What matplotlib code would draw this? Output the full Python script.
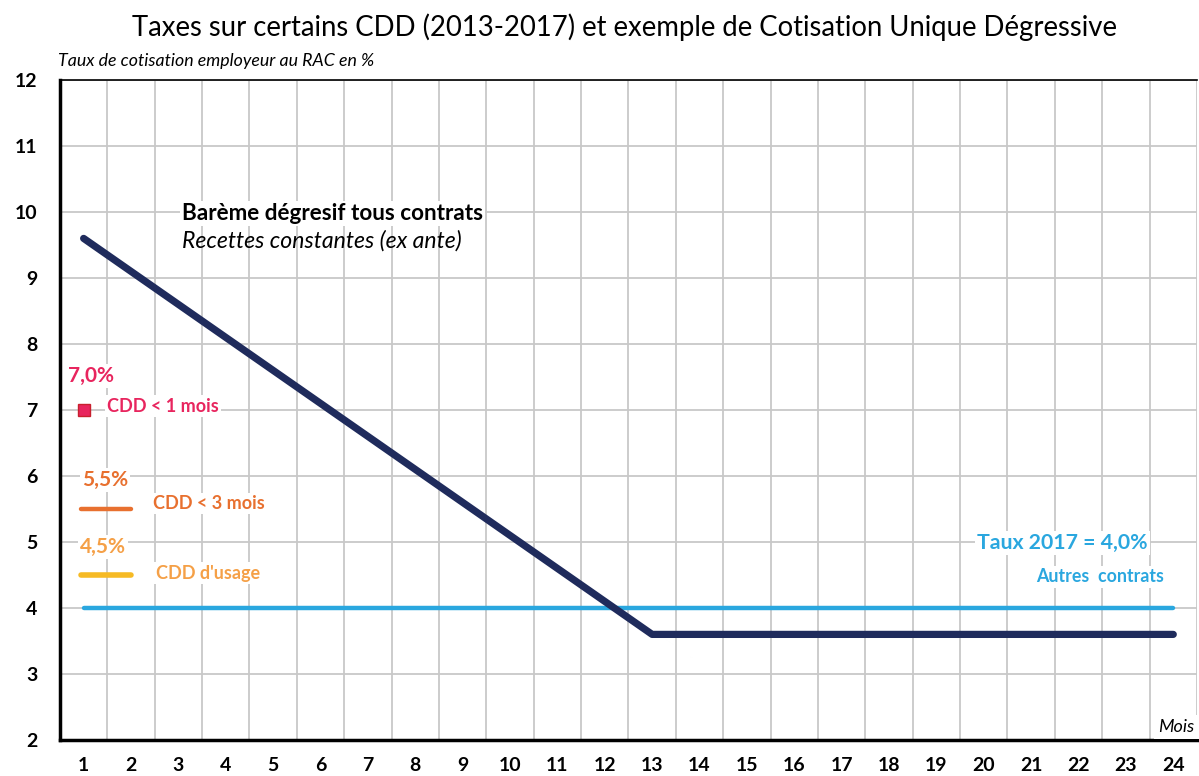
import matplotlib.pyplot as plt

# donnees
mois = list(range(1, 25))
bareme = [9.6, 9.1, 8.6, 8.1, 7.6, 7.1, 6.6, 6.1, 5.6, 5.1, 4.6, 4.1,
          3.6, 3.6, 3.6, 3.6, 3.6, 3.6, 3.6, 3.6, 3.6, 3.6, 3.6, 3.6]
taux_2017 = [4.0] * 24
cdd_1_mois = 7.0
cdd_3_mois = 5.5
cdd_usage = 4.5
seg_x = [0.95, 2.0]

NAVY = "#1F2B5C"
BLEU = "#2AA7DF"
ROSE = "#E8255E"
ORANGE = "#E8702F"
JAUNE = "#F6BA24"
ORANGE_CLAIR = "#F5A047"

plt.rcParams["font.family"] = ["Lato", "DejaVu Sans"]

fig = plt.figure(figsize=(11.99, 7.76), dpi=100)
ax = fig.add_axes([0.05, 0.0464, 0.9483, 0.8505])

ax.set_xlim(0.5, 24.5)
ax.set_ylim(2, 12)
ax.set_xticks(mois)
ax.set_yticks(range(2, 13))
ax.set_xticks([m + 0.5 for m in mois], minor=True)
ax.grid(False)
ax.grid(True, which="minor", axis="x", color="#C8C8C8", lw=1.3)
ax.grid(True, which="major", axis="y", color="#C8C8C8", lw=1.3)
ax.set_axisbelow(True)

for side in ["left", "bottom"]:
    ax.spines[side].set_linewidth(2.5)
    ax.spines[side].set_color("black")
ax.spines["top"].set_linewidth(1.2)
ax.spines["right"].set_visible(False)
ax.tick_params(which="both", length=0)
ax.tick_params(axis="x", pad=12)
ax.tick_params(axis="y", pad=16)
for lab in ax.get_xticklabels() + ax.get_yticklabels():
    lab.set_fontweight("bold")
    lab.set_fontsize(14)

ax.plot(mois, taux_2017, color=BLEU, lw=3.2, solid_capstyle="round", zorder=3)
ax.plot(mois, bareme, color=NAVY, lw=5.2, solid_capstyle="round", zorder=4)
ax.plot(seg_x, [cdd_3_mois] * 2, color=ORANGE, lw=3.2, solid_capstyle="round", zorder=4)
ax.plot(seg_x, [cdd_usage] * 2, color=JAUNE, lw=4, solid_capstyle="round", zorder=4)
ax.plot([1], [cdd_1_mois], marker="s", ms=8, color=ROSE, mec="#C8202E", mew=1, zorder=5)

blanc = dict(facecolor="white", edgecolor="none", pad=1.5)
ax.text(3.08, 9.98, "Barème dégresif tous contrats", fontsize=16.2, fontweight="bold",
        va="center", ha="left", bbox=blanc, zorder=6)
ax.text(3.08, 9.56, "Recettes constantes (ex ante)", fontsize=16.6, style="italic",
        va="center", ha="left", zorder=6)

ax.text(0.66, 7.52, "7,0%", color=ROSE, fontsize=15, fontweight="bold", va="center",
        ha="left", bbox=blanc, zorder=6)
ax.text(1.5, 7.06, "CDD < 1 mois", color=ROSE, fontsize=13, fontweight="bold",
        va="center", ha="left", bbox=blanc, zorder=6)
ax.text(0.96, 5.94, "5,5%", color=ORANGE, fontsize=15, fontweight="bold", va="center",
        ha="left", bbox=blanc, zorder=6)
ax.text(2.47, 5.58, "CDD < 3 mois", color=ORANGE, fontsize=13, fontweight="bold",
        va="center", ha="left", bbox=blanc, zorder=6)
ax.text(0.93, 4.92, "4,5%", color=ORANGE_CLAIR, fontsize=15, fontweight="bold",
        va="center", ha="left", bbox=blanc, zorder=6)
ax.text(2.52, 4.53, "CDD d'usage", color=ORANGE_CLAIR, fontsize=13, fontweight="bold",
        va="center", ha="left", bbox=blanc, zorder=6)

ax.text(19.86, 4.98, "Taux 2017 = 4,0%", color=BLEU, fontsize=15.3, fontweight="bold",
        va="center", ha="left", bbox=blanc, zorder=6)
ax.text(23.8, 4.47, "Autres  contrats", color=BLEU, fontsize=12.8, fontweight="bold",
        va="center", ha="right", bbox=blanc, zorder=6)

ax.text(24.45, 2.2, "Mois", fontsize=13, style="italic", va="center", ha="right",
        bbox=dict(facecolor="white", edgecolor="none", pad=3), zorder=6)

fig.text(0.048, 0.922, "Taux de cotisation employeur au RAC en %", fontsize=12.8,
         style="italic", va="center", ha="left")
fig.text(0.521, 0.965, "Taxes sur certains CDD (2013-2017) et exemple de Cotisation Unique Dégressive",
         fontsize=19.8, va="center", ha="center")

fig.savefig("out.png", dpi=100)
